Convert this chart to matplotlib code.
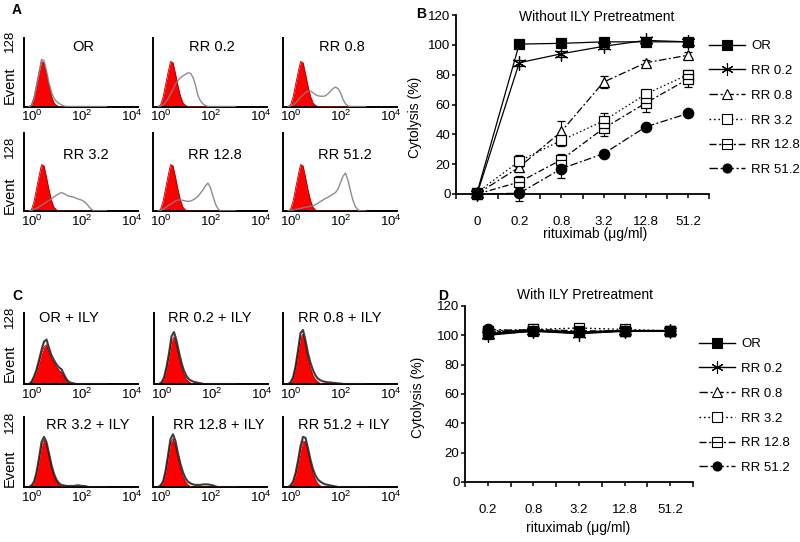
import matplotlib
matplotlib.use("Agg")
import matplotlib.pyplot as plt
from matplotlib.lines import Line2D
from matplotlib.path import Path
import numpy as np

plt.rcParams['font.family'] = ['Liberation Sans', 'DejaVu Sans']
plt.rcParams['mathtext.fontset'] = 'custom'
plt.rcParams['mathtext.rm'] = 'Liberation Sans'
plt.rcParams['mathtext.it'] = 'Liberation Sans'

# ---------------- data: flow histograms (log10 fluorescence grid) ----------------
hist_logx = [-0.1, 0.0, 0.1, 0.2, 0.3, 0.4, 0.5, 0.6, 0.7, 0.8, 0.9, 1.0, 1.1, 1.2, 1.3,
             1.4, 1.5, 1.6, 1.7, 1.8, 1.9, 2.0, 2.1, 2.2, 2.3, 2.4, 2.5, 2.6, 2.7, 2.8, 2.9, 3.0]

def pad(v):
    return list(v) + [0] * (len(hist_logx) - len(v))

# panel A: red = control, gray = sample
red_A = pad([0, 3, 18, 42, 66, 88, 86, 64, 40, 20, 7, 2, 0])
gray_OR = pad([0, 2, 16, 40, 66, 92, 90, 70, 46, 28, 16, 10, 6, 3, 1, 0])
gray_RR02 = pad([0, 1, 3, 8, 15, 24, 33, 44, 51, 56, 60, 63, 66, 65, 57, 42, 21, 11, 5, 2, 0])
gray_RR08 = pad([0, 1, 3, 7, 12, 18, 23, 27, 30, 30, 27, 23, 21, 20, 20, 21, 25, 30, 35, 38,
                 35, 27, 14, 5, 1, 0])
gray_RR32 = pad([0, 1, 3, 5, 8, 11, 14, 17, 20, 23, 27, 30, 33, 35, 33, 30, 28, 27, 26, 24,
                 22, 21, 18, 14, 8, 3, 0])
gray_RR128 = pad([0, 1, 3, 6, 10, 13, 16, 19, 21, 21, 20, 19, 18, 19, 21, 24, 28, 34, 40, 48,
                  53, 44, 28, 13, 4, 0])
gray_RR512 = pad([0, 1, 2, 3, 4, 5, 6, 7, 8, 9, 10, 12, 15, 18, 21, 24, 26, 29, 32, 35, 42,
                  54, 66, 72, 58, 38, 20, 8, 2, 0])

# panel C: red = control + ILY, dark = sample + ILY
red_C1 = pad([0, 3, 12, 24, 40, 57, 70, 74, 60, 48, 40, 32, 26, 22, 14, 6, 1, 0])
gray_C1 = pad([0, 4, 14, 27, 45, 64, 80, 84, 68, 54, 45, 37, 31, 28, 18, 9, 4, 2, 1, 0])
red_C2 = pad([0, 2, 10, 28, 52, 80, 89, 72, 50, 32, 18, 9, 4, 1, 0])
gray_C2 = pad([0, 3, 12, 32, 58, 90, 98, 82, 60, 40, 25, 15, 9, 6, 4, 3, 2, 1, 0])
red_C3 = pad([0, 2, 10, 30, 58, 88, 94, 72, 48, 30, 16, 8, 4, 1, 0])
gray_C3 = pad([0, 3, 12, 33, 63, 96, 102, 82, 58, 40, 26, 16, 10, 7, 5, 4, 3, 3, 2, 2, 1, 1, 0])
red_C4 = pad([0, 2, 8, 24, 50, 78, 90, 80, 58, 36, 20, 10, 4, 1, 0])
gray_C4 = pad([0, 3, 10, 28, 55, 86, 96, 86, 64, 42, 25, 14, 7, 4, 3, 2, 2, 2, 2, 3, 3, 2, 2, 1, 0])
red_C5 = pad([0, 2, 8, 26, 54, 84, 93, 78, 55, 35, 20, 10, 4, 1, 0])
gray_C5 = pad([0, 3, 10, 30, 60, 92, 101, 88, 64, 44, 28, 17, 10, 7, 5, 4, 4, 4, 5, 5, 5, 4, 3, 1, 0])
red_C6 = pad([0, 2, 8, 22, 44, 70, 88, 86, 66, 44, 26, 14, 6, 2, 0])
gray_C6 = pad([0, 3, 10, 26, 50, 78, 96, 94, 74, 52, 34, 22, 14, 10, 7, 5, 4, 3, 2, 1, 0])

labels_A = ["OR", "RR 0.2", "RR 0.8", "RR 3.2", "RR 12.8", "RR 51.2"]
labels_C = ["OR + ILY", "RR 0.2 + ILY", "RR 0.8 + ILY", "RR 3.2 + ILY", "RR 12.8 + ILY", "RR 51.2 + ILY"]

# ---------------- data: cytolysis ----------------
conc_B = ["0", "0.2", "0.8", "3.2", "12.8", "51.2"]
B_OR = [1, 100.5, 101, 102, 102, 102]
B_RR02 = [0, 88, 94, 99, 103, 102]
B_RR08 = [0, 18, 42, 75, 88, 93]
B_RR32 = [1, 22, 36, 49, 67, 80]
B_RR128 = [0, 8, 23, 44, 61, 77]
B_RR512 = [0, 0.5, 17, 27, 45, 54]
B_OR_err = [1, 1, 1, 1, 1, 1]
B_RR02_err = [1, 2, 2, 2, 2, 1]
B_RR08_err = [1, 3, 7, 4, 2, 2]
B_RR32_err = [1, 4, 4, 5, 3, 3]
B_RR128_err = [1, 4, 4, 5, 6, 5]
B_RR512_err = [1, 5, 6, 2, 2, 2]

conc_D = ["0.2", "0.8", "3.2", "12.8", "51.2"]
D_OR = [101, 103, 102, 103, 103]
D_RR02 = [100, 103, 101, 103, 103]
D_RR08 = [102, 104, 102, 103, 103]
D_RR32 = [103, 104, 105, 104, 103]
D_RR128 = [102, 104, 103, 103, 103]
D_RR512 = [104, 103, 102, 103, 103]

series_labels = ["OR", "RR 0.2", "RR 0.8", "RR 3.2", "RR 12.8", "RR 51.2"]

# ---------------- figure ----------------
W, H = 800, 542
fig = plt.figure(figsize=(8, 5.42), dpi=100)

def ax_px(l, t, r, b):
    return fig.add_axes([l / W, 1 - b / H, (r - l) / W, (b - t) / H])

def ftext(x, y, s, **kw):
    fig.text(x / W, 1 - y / H, s, **kw)

# custom marker: square with horizontal bar
sq_bar = Path([(-1, -1), (1, -1), (1, 1), (-1, 1), (-1, -1), (-1, 0), (1, 0)],
              [Path.MOVETO, Path.LINETO, Path.LINETO, Path.LINETO, Path.CLOSEPOLY,
               Path.MOVETO, Path.LINETO])
asterisk = (6, 2, 0)

styles = [
    dict(ls='-', marker='s', mfc='k', mec='k'),
    dict(ls='-', marker=asterisk, mfc='k', mec='k'),
    dict(ls=(0, (6, 2, 1.5, 2)), marker='^', mfc='white', mec='k'),
    dict(ls=(0, (1.2, 2)), marker='s', mfc='white', mec='k'),
    dict(ls=(0, (5, 2, 1.5, 2)), marker=sq_bar, mfc='white', mec='k'),
    dict(ls=(0, (6, 2, 1.5, 2)), marker='o', mfc='k', mec='k'),
]
size_scale = [1.0, 1.35, 1.0, 1.0, 1.0, 1.0]

# ---------------- histograms ----------------
def hist_panel(l, t, r, b, ymax, red, gray, label, lx, ly, dark=False):
    ax = ax_px(l, t, r, b)
    ax.fill_between(hist_logx, red, 0, color='#ff0000', lw=0, zorder=2)
    ax.plot(hist_logx, red, color='#aa0000', lw=0.6, zorder=3)
    if dark:
        ax.plot(hist_logx, gray, color='#1a1a1a', lw=1.5, alpha=0.85, zorder=4)
    else:
        ax.plot(hist_logx, gray, color='#808080', lw=1.0, alpha=0.9, zorder=4)
    ax.set_xlim(-0.3, 4.26)
    ax.set_ylim(0, ymax)
    for s in ('top', 'right'):
        ax.spines[s].set_visible(False)
    for s in ('left', 'bottom'):
        ax.spines[s].set_linewidth(1.4)
    ax.set_xticks([0, 2, 4])
    ax.set_xticklabels(['$10^0$', '$10^2$', '$10^4$'], fontsize=9.5)
    ax.set_yticks([])
    ax.tick_params(axis='x', length=0, pad=2)
    ax.text(lx, ly, label, transform=ax.transAxes, ha='center', va='center', fontsize=10.5)
    return ax

lefts = [24, 153, 283]
pw = 114
grays_A = [gray_OR, gray_RR02, gray_RR08, gray_RR32, gray_RR128, gray_RR512]
for i in range(6):
    row, col = divmod(i, 3)
    l = lefts[col]
    if row == 0:
        hist_panel(l, 38, l + pw, 106.5, 134, red_A, grays_A[i], labels_A[i], 0.52, 0.87)
    else:
        hist_panel(l, 133, l + pw, 211, 148, red_A, grays_A[i], labels_A[i], 0.54, 0.72)

reds_C = [red_C1, red_C2, red_C3, red_C4, red_C5, red_C6]
grays_C = [gray_C1, gray_C2, gray_C3, gray_C4, gray_C5, gray_C6]
lx_C = [0.39, 0.49, 0.50, 0.56, 0.58, 0.53]
for i in range(6):
    row, col = divmod(i, 3)
    l = lefts[col] + (1 if (row == 0 and col == 1) else 0)
    if row == 0:
        hist_panel(l, 313, l + pw, 384, 134, reds_C[i], grays_C[i], labels_C[i], lx_C[i], 0.925, dark=True)
    else:
        hist_panel(l, 417, l + pw, 487, 134, reds_C[i], grays_C[i], labels_C[i], lx_C[i], 0.886, dark=True)

for y128, yev in [(41, 85), (147, 195), (317, 363), (422, 468)]:
    ftext(10, y128, "128", rotation=90, ha='center', va='center', fontsize=9.5)
    ftext(10, yev, "Event", rotation=90, ha='center', va='center', fontsize=10.5)

# ---------------- panel B ----------------
axB = ax_px(456, 15, 709, 194)
xb = np.arange(len(conc_B))
B_vals = [B_OR, B_RR02, B_RR08, B_RR32, B_RR128, B_RR512]
B_errs = [B_OR_err, B_RR02_err, B_RR08_err, B_RR32_err, B_RR128_err, B_RR512_err]
for vals, errs, st, sc in zip(B_vals, B_errs, styles, size_scale):
    axB.errorbar(xb, vals, yerr=errs, color='k', lw=0.9, ms=7.5 * sc, mew=0.9,
                 capsize=3, elinewidth=0.8, capthick=0.8, clip_on=False, zorder=3, **st)
axB.set_xlim(-0.5, 5.5)
axB.set_ylim(0, 120)

# ---------------- panel D ----------------
axD = ax_px(465, 306, 693, 482)
xd = np.arange(len(conc_D))
D_vals = [D_OR, D_RR02, D_RR08, D_RR32, D_RR128, D_RR512]
for k, (vals, st, sc) in enumerate(zip(D_vals, styles, size_scale)):
    axD.plot(xd, vals, color='k', lw=1.6 if k == 0 else 1.0, ms=7.5 * sc, mew=0.9,
             zorder=3 + (k == 0), **st)
axD.set_xlim(-0.5, 4.5)
axD.set_ylim(0, 120)

for ax, labs, n in [(axB, conc_B, 6), (axD, conc_D, 5)]:
    for s in ('top', 'right'):
        ax.spines[s].set_visible(False)
    for s in ('left', 'bottom'):
        ax.spines[s].set_linewidth(1.3)
    ax.set_xticks(np.arange(n))
    ax.set_xticklabels(labs, fontsize=9.5)
    ax.set_xticks(np.arange(-0.5, n, 1.0), minor=True)
    ax.set_yticks(np.arange(0, 121, 20))
    ax.tick_params(axis='y', labelsize=9.5, direction='out', length=3, width=1.1, pad=1)
    ax.tick_params(axis='x', which='major', direction='out', length=3, width=1.1, pad=12.5)
    ax.tick_params(axis='x', which='minor', direction='out', length=3.5, width=1.1)

ftext(597, 17, "Without ILY Pretreatment", ha='center', va='center', fontsize=10)
ftext(595, 234, "rituximab (\u03bcg/ml)", ha='center', va='center', fontsize=10)
ftext(415, 117, "Cytolysis (%)", rotation=90, ha='center', va='center', fontsize=10)
ftext(585, 295, "With ILY Pretreatment", ha='center', va='center', fontsize=10)
ftext(578, 528, "rituximab (\u03bcg/ml)", ha='center', va='center', fontsize=10)
ftext(418, 397, "Cytolysis (%)", rotation=90, ha='center', va='center', fontsize=10)

# panel letters
ftext(17, 10, "A", ha='center', va='center', fontsize=10, fontweight='bold')
ftext(421, 14, "B", ha='center', va='center', fontsize=10, fontweight='bold')
ftext(17, 296, "C", ha='center', va='center', fontsize=10, fontweight='bold')
ftext(443, 296, "D", ha='center', va='center', fontsize=10, fontweight='bold')

# legends
def make_handles(ms):
    hs = []
    for st, sc in zip(styles, size_scale):
        hs.append(Line2D([], [], color='k', lw=1.0, ms=ms * sc, mew=0.8, **st))
    return hs

for (x0, y0) in [(709, 40), (699, 338)]:
    fig.legend(make_handles(6.5), series_labels, loc='upper left',
               bbox_to_anchor=(x0 / W, 1 - y0 / H), frameon=False, fontsize=9.5,
               handlelength=2.7, handletextpad=0.5, labelspacing=0.95,
               borderpad=0, borderaxespad=0)

fig.savefig("out.png", dpi=100)
